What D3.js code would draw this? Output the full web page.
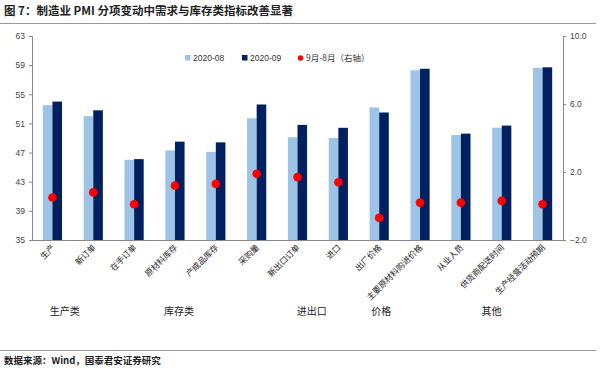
<!DOCTYPE html>
<html>
<head>
<meta charset="utf-8">
<script src="https://cdn.jsdelivr.net/npm/d3@7/dist/d3.min.js"></script>
<style>
  body { margin: 0; background: #fff; }
  svg { display: block; font-family: "Noto Sans CJK SC", "Noto Sans", sans-serif; }
</style>
</head>
<body>
<svg id="chart" width="600" height="371"></svg>
<script>
const categories = ['生产', '新订单', '在手订单', '原材料库存', '产成品库存', '采购量', '新出口订单',
    '进口', '出厂价格', '主要原材料购进价格', '从业人员', '供货商配送时间', '生产经营活动预期'];
const aug = [53.5, 52.0, 46.0, 47.3, 47.1, 51.7, 49.1, 49.0, 53.2, 58.3, 49.4, 50.4, 58.6];
const sep = [54.0, 52.8, 46.1, 48.5, 48.4, 53.6, 50.8, 50.4, 52.5, 58.5, 49.6, 50.7, 58.7];
const diff = [0.5, 0.8, 0.1, 1.2, 1.3, 1.9, 1.7, 1.4, -0.7, 0.2, 0.2, 0.3, 0.1];
const leftTicks = [35, 39, 43, 47, 51, 55, 59, 63];
const rightTicks = [-2, 2, 6, 10];
// group label name and anchor (category index, fractional)
const groups = [
    { name: '生产类', at: 0.8 },
    { name: '库存类', at: 3.6 },
    { name: '进出口', at: 6.85 },
    { name: '价格', at: 8.55 },
    { name: '其他', at: 11.25 }
];

const svg = d3.select('#chart');
const margin = { left: 32, right: 37, top: 36, bottom: 131 };
const W = 600, H = 371;
const plotW = W - margin.left - margin.right;
const plotH = H - margin.top - margin.bottom;

// title + rules
svg.append('text').attr('x', 4).attr('y', 15)
    .style('font-size', '11.5px').style('font-weight', 'bold').attr('fill', '#222')
    .text('图 7：制造业 PMI 分项变动中需求与库存类指标改善显著');
svg.append('line').attr('x1', 0).attr('x2', 596).attr('y1', 23.5).attr('y2', 23.5)
    .attr('stroke', '#999').attr('stroke-width', 1);
svg.append('line').attr('x1', 0).attr('x2', 596).attr('y1', 350.5).attr('y2', 350.5)
    .attr('stroke', '#999').attr('stroke-width', 1);
svg.append('text').attr('x', 4).attr('y', 364)
    .style('font-size', '9.5px').style('font-weight', 'bold').attr('fill', '#222')
    .text('数据来源：Wind，国泰君安证券研究');

const g = svg.append('g').attr('transform', `translate(${margin.left},${margin.top})`);

const x = d3.scaleBand().domain(categories).range([0, plotW]).padding(0);
const y = d3.scaleLinear().domain([35, 63]).range([plotH, 0]);
const y2 = d3.scaleLinear().domain([-2, 10]).range([plotH, 0]);
const barW = 9.6;

// bars
g.selectAll('.bar-aug').data(categories).join('rect')
    .attr('class', 'bar-aug')
    .attr('x', d => x(d) + x.bandwidth() / 2 - barW)
    .attr('y', (d, i) => y(aug[i]))
    .attr('width', barW)
    .attr('height', (d, i) => plotH - y(aug[i]))
    .attr('fill', '#9DC3E6');

g.selectAll('.bar-sep').data(categories).join('rect')
    .attr('class', 'bar-sep')
    .attr('x', d => x(d) + x.bandwidth() / 2)
    .attr('y', (d, i) => y(sep[i]))
    .attr('width', barW)
    .attr('height', (d, i) => plotH - y(sep[i]))
    .attr('fill', '#002060');

// dots (right axis)
g.selectAll('.dot').data(categories).join('circle')
    .attr('class', 'dot')
    .attr('cx', d => x(d) + x.bandwidth() / 2)
    .attr('cy', (d, i) => y2(diff[i]))
    .attr('r', 4.3)
    .attr('fill', '#FF0000');

// axes
const axL = g.append('g')
    .call(d3.axisLeft(y).tickValues(leftTicks).tickSize(3).tickPadding(4));
const axR = g.append('g').attr('transform', `translate(${plotW},0)`)
    .call(d3.axisRight(y2).tickValues(rightTicks).tickSize(3).tickPadding(4).tickFormat(d3.format('.1f')));
const axB = g.append('g').attr('transform', `translate(0,${plotH})`)
    .call(d3.axisBottom(x).tickSize(0).tickFormat(''));
[axL, axR, axB].forEach(a => {
    a.select('.domain').attr('stroke', '#888');
    a.selectAll('.tick line').attr('stroke', '#888');
    a.selectAll('.tick text').attr('fill', '#444').style('font-size', '8.5px')
        .style('font-family', 'Liberation Sans, Arial, sans-serif');
});

// rotated category labels
g.selectAll('.cat').data(categories).join('text')
    .attr('class', 'cat')
    .attr('transform', d => `translate(${x(d) + x.bandwidth() / 2 + 3},${plotH + 8}) rotate(-45)`)
    .attr('text-anchor', 'end')
    .style('font-size', '8.3px')
    .attr('fill', '#222')
    .text(d => d);

// group labels
g.selectAll('.grp').data(groups).join('text')
    .attr('class', 'grp')
    .attr('x', d => d.at * x.bandwidth())
    .attr('y', plotH + 75)
    .attr('text-anchor', 'middle')
    .style('font-size', '10px')
    .attr('fill', '#222')
    .text(d => d.name);

// legend
const legend = svg.append('g').attr('transform', 'translate(185,58)');
const items = [
    { label: '2020-08', type: 'rect', color: '#9DC3E6', dx: 0 },
    { label: '2020-09', type: 'rect', color: '#002060', dx: 57 },
    { label: '9月-8月（右轴）', type: 'dot', color: '#FF0000', dx: 113 }
];
items.forEach(it => {
    const row = legend.append('g').attr('transform', `translate(${it.dx},0)`);
    if (it.type === 'rect') {
        row.append('rect').attr('x', 0).attr('y', -3).attr('width', 5.5).attr('height', 5.5).attr('fill', it.color);
    } else {
        row.append('circle').attr('cx', 2.5).attr('cy', 0).attr('r', 2.8).attr('fill', it.color);
    }
    row.append('text').attr('x', 8).attr('y', 3.2)
        .style('font-size', '8.5px').attr('fill', '#333')
        .style('font-family', it.type === 'rect' ? 'Liberation Sans, Arial, sans-serif' : null)
        .text(it.label);
});
</script>
</body>
</html>
